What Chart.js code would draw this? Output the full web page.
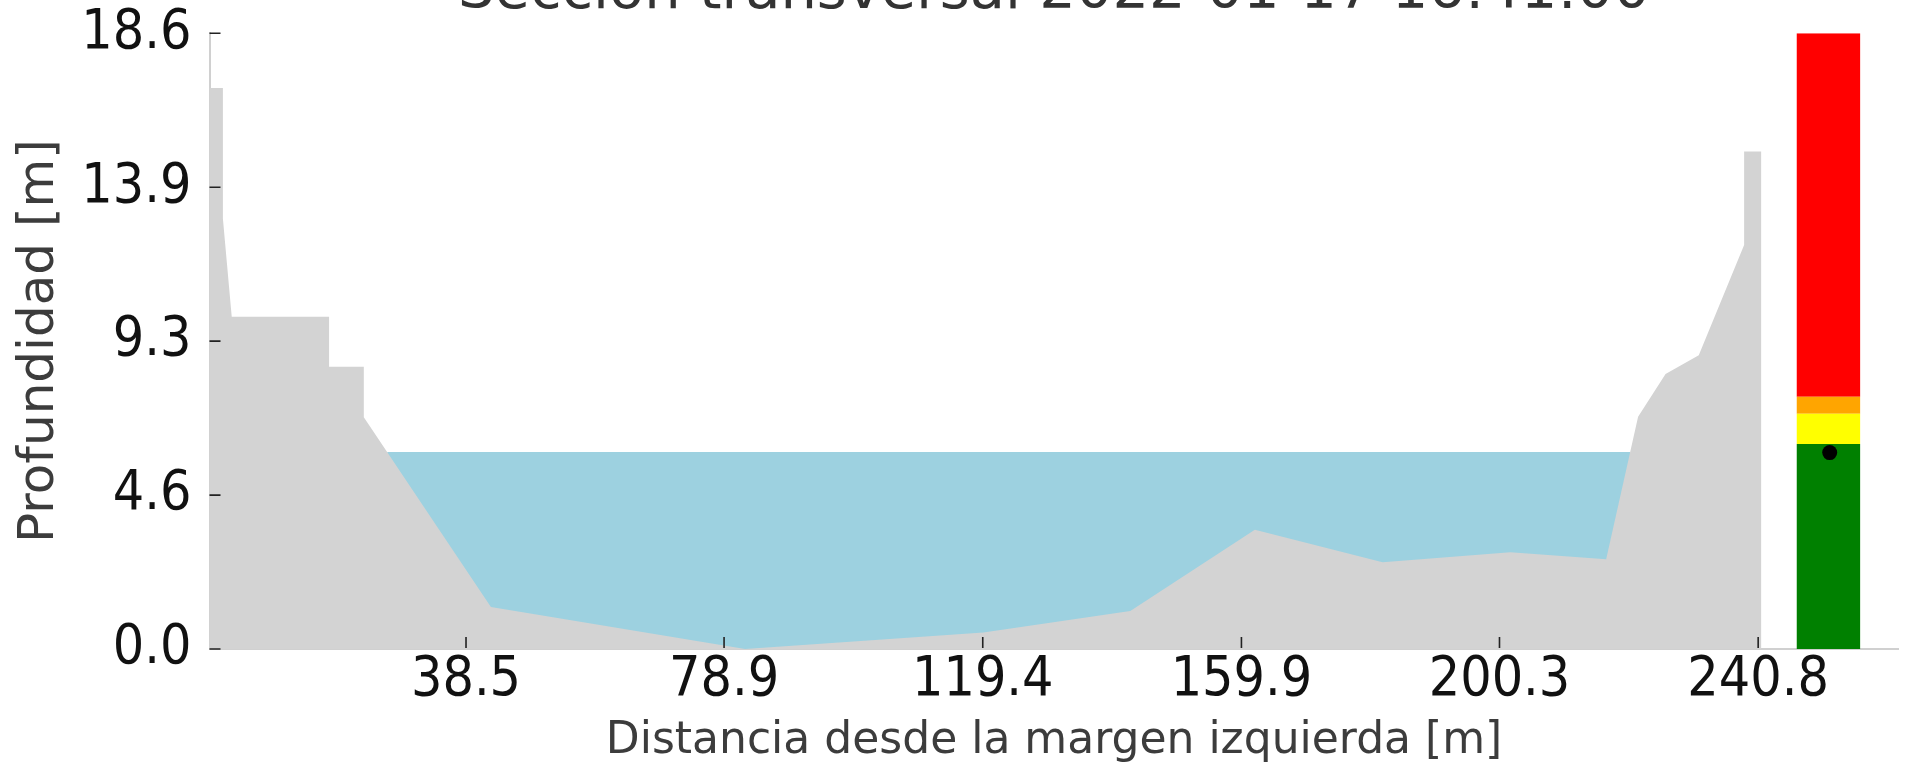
<!DOCTYPE html>
<html>
<head>
<meta charset="utf-8">
<script src="https://cdn.jsdelivr.net/npm/chart.js@4.4.0/dist/chart.umd.min.js"></script>
<style>
  html, body { margin: 0; padding: 0; background: #fff; overflow: hidden; width: 1906px; height: 769px; }
  #wrap { position: absolute; left: 0; top: -41px; width: 1906px; height: 810px; }
</style>
</head>
<body>
<div id="wrap"><canvas id="seccion" width="1906" height="810"></canvas></div>
<script>
// perfil del cauce: distancia [m] y profundidad [m]
var terrenoX = [-1.7, 0.44, 0.44, 1.82, 17.06, 17.06, 22.5, 22.5, 42.4, 82.2, 119.5, 142.5, 162.0, 182.0, 202.0, 217.0, 222.0, 226.3, 231.5, 238.6, 238.6, 241.3, 241.3];
var terrenoY = [16.94, 16.94, 12.99, 10.03, 10.03, 8.52, 8.52, 7.0, 1.27, 0.0, 0.5, 1.15, 3.6, 2.62, 2.92, 2.71, 7.01, 8.3, 8.87, 12.2, 15.02, 15.02, 0.0];

// lamina de agua
var aguaX = [26.15, 220.77];
var nivelAgua = 5.95;

// barra de umbrales
var barraX = [246.8, 256.8];
var umbrales = [0, 6.19, 7.1, 7.62, 18.6];
var coloresUmbral = ['#008000', '#ffff00', '#ffa500', '#ff0000'];
var nivelX = 252.0;
var nivelY = 5.93;

var xTicks = [38.5, 78.9, 119.4, 159.9, 200.3, 240.8];
var yTicks = [0, 4.6475, 9.295, 13.9425, 18.59];
var yTickLabels = ['0.0', '4.6', '9.3', '13.9', '18.6'];

var fuente = "'DejaVu Sans', sans-serif";
var fuenteTicks = "'DejaVu Sans Condensed', 'DejaVu Sans', sans-serif";

function puntos(xs, ys) {
  return xs.map(function (x, i) { return { x: x, y: ys[i] }; });
}

var terreno = {
  label: 'Terreno',
  data: puntos(terrenoX, terrenoY),
  fill: 'origin',
  backgroundColor: '#d3d3d3',
  borderColor: 'transparent',
  borderWidth: 0,
  pointRadius: 0,
  tension: 0
};

var punto = {
  label: 'Nivel',
  data: [{ x: nivelX, y: nivelY }],
  showLine: false,
  fill: false,
  pointRadius: 7.5,
  pointBackgroundColor: '#000',
  pointBorderColor: '#000',
  pointBorderWidth: 0
};

var agua = {
  label: 'Agua',
  data: aguaX.map(function (x) { return { x: x, y: nivelAgua }; }),
  fill: 'origin',
  backgroundColor: '#9dd1e0',
  borderColor: 'transparent',
  borderWidth: 0,
  pointRadius: 0
};

var bandas = coloresUmbral.map(function (c, i) {
  return {
    label: 'Umbral ' + i,
    data: barraX.map(function (x) { return { x: x, y: umbrales[i + 1] }; }),
    fill: { value: umbrales[i] },
    backgroundColor: c,
    borderColor: 'transparent',
    borderWidth: 0,
    pointRadius: 0
  };
});

// ticks hacia dentro, como en matplotlib
var ticksInternos = {
  id: 'ticksInternos',
  afterDatasetsDraw: function (chart) {
    var ctx = chart.ctx, a = chart.chartArea;
    var sx = chart.scales.x, sy = chart.scales.y;
    ctx.save();
    ctx.strokeStyle = '#222';
    ctx.lineWidth = 1.6;
    ctx.beginPath();
    xTicks.forEach(function (v) {
      var p = sx.getPixelForValue(v);
      ctx.moveTo(p, a.bottom - 1);
      ctx.lineTo(p, a.bottom - 12);
    });
    yTicks.forEach(function (v) {
      var p = sy.getPixelForValue(v);
      ctx.moveTo(a.left, p);
      ctx.lineTo(a.left + 11, p);
    });
    ctx.stroke();
    ctx.restore();
  }
};

var seccionChart = new Chart(document.getElementById('seccion'), {
  type: 'line',
  data: { datasets: [terreno, punto, agua].concat(bandas) },
  options: {
    responsive: false,
    animation: false,
    devicePixelRatio: 1,
    layout: { padding: { left: 0, right: 3, top: 0, bottom: 0 } },
    plugins: {
      legend: { display: false },
      tooltip: { enabled: false },
      title: {
        display: true,
        fullSize: false,
        text: 'Sección transversal 2022-01-17 16:41:00',
        color: '#333',
        font: { family: fuente, size: 57.5, weight: 'normal', lineHeight: 1.2 },
        padding: { top: 0, bottom: 5.3 }
      }
    },
    scales: {
      x: {
        type: 'linear',
        min: -1.66,
        max: 262.77,
        grid: { display: false, drawTicks: false },
        border: { display: true, color: '#d0d0d0', width: 2 },
        afterBuildTicks: function (s) { s.ticks = xTicks.map(function (v) { return { value: v }; }); },
        afterFit: function (s) { s.height = 120; },
        ticks: {
          autoSkip: false,
          maxRotation: 0,
          padding: 0,
          color: '#111',
          font: { family: fuenteTicks, size: 55, lineHeight: 1.14 },
          callback: function (v) { return v.toFixed(1); }
        },
        title: {
          display: true,
          text: 'Distancia desde la margen izquierda [m]',
          color: '#3c3c3c',
          font: { family: fuente, size: 44, lineHeight: 1.2 },
          padding: { top: 0, bottom: 1 }
        }
      },
      y: {
        min: 0,
        max: 18.59,
        grid: { display: false, drawTicks: false },
        border: { display: true, color: '#d0d0d0', width: 2 },
        afterBuildTicks: function (s) { s.ticks = yTicks.map(function (v) { return { value: v }; }); },
        afterFit: function (s) { s.width = 209.5; },
        ticks: {
          autoSkip: false,
          padding: 18,
          color: '#111',
          font: { family: fuenteTicks, size: 55, lineHeight: 1.14 },
          callback: function (v, i) { return yTickLabels[i]; }
        },
        title: {
          display: true,
          text: 'Profundidad [m]',
          color: '#3c3c3c',
          font: { family: fuente, size: 50, lineHeight: 1.2 },
          padding: { top: 10, bottom: 0 }
        }
      }
    }
  },
  plugins: [ticksInternos]
});
</script>
</body>
</html>
